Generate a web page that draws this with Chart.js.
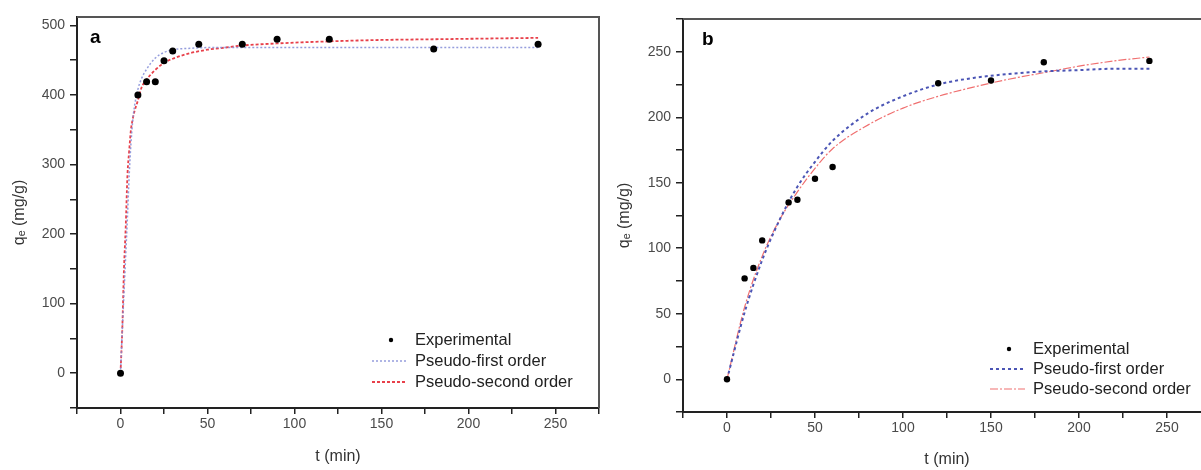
<!DOCTYPE html>
<html><head><meta charset="utf-8">
<script src="https://cdn.jsdelivr.net/npm/chart.js@4/dist/chart.umd.min.js"></script>
<style>
html,body{margin:0;padding:0;background:#fff;overflow:hidden;width:1201px;height:470px;position:relative;}
#ca{position:absolute;left:0;top:0;}
#cb{position:absolute;left:600px;top:0;}
</style></head><body>
<canvas id="ca" width="606" height="470"></canvas>
<canvas id="cb" width="620" height="470"></canvas>
<script>
// ---- data ----
const seriesNames = ['Experimental', 'Pseudo-first order', 'Pseudo-second order'];
const xTickLabels = [0, 50, 100, 150, 200, 250];
const aYTickLabels = [0, 100, 200, 300, 400, 500];
const bYTickLabels = [0, 50, 100, 150, 200, 250];

// panel a
const aExpT = [0, 10, 15, 20, 25, 30, 45, 70, 90, 120, 180, 240];
const aExpQ = [0, 400, 419, 419, 449, 463, 473, 473, 480, 480, 466, 473];
const aFitT = [0, 1, 2, 3, 4, 5, 6, 7, 8, 10, 12, 15, 20, 25, 30, 40, 50, 60, 70, 90, 120, 150, 180, 210, 240];
const aPfoQ = [0, 60, 115, 170, 225, 285, 330, 362, 383, 408, 423, 437, 453, 461, 465, 467, 468, 468, 468, 468, 468, 468, 468, 468, 468];
const aPsoQ = [0, 61, 150, 210, 285, 320, 350, 365, 376, 392, 410, 422, 436, 446, 452, 460, 465, 468, 471, 474, 477, 479, 480, 481, 482];

// panel b
const bExpT = [0, 10, 15, 20, 35, 40, 50, 60, 120, 150, 180, 240];
const bExpQ = [0, 77, 85, 106, 135, 137, 153, 162, 226, 228, 242, 243];
const bFitT = [0, 10, 20, 30, 40, 50, 60, 80, 100, 120, 140, 160, 180, 200, 220, 240];
const bPfoQ = [0, 51, 91, 122, 147, 166, 182, 203, 216, 225, 230, 233, 235, 236, 237, 237];
const bPsoQ = [0, 55, 94, 122, 143, 161, 176, 194, 207, 216, 223, 229, 234, 239, 243, 246];

const zip = (xs, ys) => xs.map((x, i) => ({x: x, y: ys[i]}));
const FONT = '"Liberation Sans", Arial, Helvetica, sans-serif';

const panelPlugin = {
  id: 'panel',
  afterDraw(chart, args, o) {
    const ctx = chart.ctx, ca = chart.chartArea;
    ctx.save();
    ctx.strokeStyle = o.frameColor; ctx.lineWidth = 2;
    ctx.beginPath(); ctx.moveTo(ca.left, ca.top); ctx.lineTo(ca.right, ca.top); ctx.lineTo(ca.right, ca.bottom); ctx.stroke();
    ctx.fillStyle = '#000'; ctx.font = 'bold 19px ' + FONT;
    ctx.textBaseline = 'alphabetic'; ctx.textAlign = 'left';
    ctx.fillText(o.letter, o.letterX, o.letterY);
    ctx.font = '16.5px ' + FONT; ctx.textBaseline = 'middle';
    chart.data.datasets.forEach((ds, i) => {
      const y = o.rowY[i];
      if (ds.showLine === false) {
        ctx.beginPath(); ctx.arc(o.dotX, y, 2.2, 0, Math.PI * 2);
        ctx.fillStyle = ds.backgroundColor; ctx.fill();
      } else {
        ctx.save(); ctx.strokeStyle = ds.borderColor; ctx.lineWidth = ds.borderWidth;
        ctx.setLineDash(ds.borderDash || []);
        ctx.beginPath(); ctx.moveTo(o.lineX1, y); ctx.lineTo(o.lineX2, y); ctx.stroke(); ctx.restore();
      }
      ctx.fillStyle = '#222';
      ctx.fillText(ds.label, o.textX, y);
    });
    ctx.restore();
  }
};

function makeChart(id, cfg) {
  const xLabels = new Set(xTickLabels);
  const yLabels = new Set(cfg.yLabels);
  return new Chart(document.getElementById(id), {
    type: 'scatter',
    data: {
      datasets: [
        {label: seriesNames[0], data: zip(cfg.expT, cfg.expQ), showLine: false, pointRadius: cfg.ptR,
         backgroundColor: '#000', borderColor: '#000', borderWidth: 0},
        {label: seriesNames[1], data: zip(cfg.fitT, cfg.pfo), showLine: true, pointRadius: 0,
         borderColor: cfg.pfoColor, borderWidth: cfg.pfoWidth, borderDash: cfg.pfoDash, cubicInterpolationMode: 'monotone', fill: false},
        {label: seriesNames[2], data: zip(cfg.fitT, cfg.pso), showLine: true, pointRadius: 0,
         borderColor: cfg.psoColor, borderWidth: cfg.psoWidth, borderDash: cfg.psoDash, cubicInterpolationMode: 'monotone', fill: false}
      ]
    },
    options: {
      responsive: false, animation: false, devicePixelRatio: 1,
      layout: {padding: {left: 0, top: cfg.top, right: cfg.padRight, bottom: 0}},
      plugins: {legend: {display: false}, tooltip: {enabled: false}, panel: cfg.panel},
      scales: {
        x: {
          type: 'linear', min: -25, max: 275,
          afterFit: s => { s.height = cfg.xH; },
          border: {display: true, color: '#222', width: 2},
          grid: {display: true, drawOnChartArea: false, drawTicks: true, tickLength: 6, color: '#222', lineWidth: 1.5},
          ticks: {stepSize: 25, autoSkip: false, maxRotation: 0, includeBounds: false, padding: 2,
                  color: '#4a4a4a', font: {family: FONT, size: 14},
                  callback: v => xLabels.has(v) ? String(v) : ''},
          title: {display: true, text: 't (min)', color: '#333', font: {family: FONT, size: 16},
                  padding: {top: 0, bottom: cfg.xTitlePad}}
        },
        y: {
          type: 'linear', min: cfg.yMin, max: cfg.yMax,
          afterFit: s => { s.width = cfg.yW; },
          border: {display: true, color: '#222', width: 2},
          grid: {display: true, drawOnChartArea: false, drawTicks: true, tickLength: 7, color: '#222', lineWidth: 1.5},
          ticks: {stepSize: cfg.yStep, autoSkip: false, includeBounds: false, padding: 5,
                  color: '#4a4a4a', font: {family: FONT, size: 14},
                  callback: v => yLabels.has(v) ? String(v) : ''},
          title: {display: true, text: 'qₑ (mg/g)', color: '#333', font: {family: FONT, size: 16},
                  padding: {top: cfg.yTitlePad, bottom: 0}}
        }
      }
    },
    plugins: [panelPlugin]
  });
}

makeChart('ca', {
  expT: aExpT, expQ: aExpQ, fitT: aFitT, pfo: aPfoQ, pso: aPsoQ, yLabels: aYTickLabels,
  ptR: 3.5, pfoColor: 'rgba(130,140,215,0.85)', pfoWidth: 1.5, pfoDash: [2, 2],
  psoColor: '#e8404a', psoWidth: 1.8, psoDash: [3, 2],
  top: 17, padRight: 7, xH: 62, yW: 77, yMin: -50, yMax: 512, yStep: 50,
  xTitlePad: 3.4, yTitlePad: 10.4,
  panel: {frameColor: '#555', letter: 'a', letterX: 90, letterY: 43,
          rowY: [340, 361, 382], dotX: 391, lineX1: 372, lineX2: 407, textX: 415}
});

makeChart('cb', {
  expT: bExpT, expQ: bExpQ, fitT: bFitT, pfo: bPfoQ, pso: bPsoQ, yLabels: bYTickLabels,
  ptR: 3.2, pfoColor: '#4b55b5', pfoWidth: 2, pfoDash: [3, 3],
  psoColor: '#f07070', psoWidth: 1.2, psoDash: [8, 2, 2, 2],
  top: 19, padRight: 9, xH: 58, yW: 83, yMin: -25, yMax: 275, yStep: 25,
  xTitlePad: 0.4, yTitlePad: 15.4,
  panel: {frameColor: '#555', letter: 'b', letterX: 102, letterY: 45,
          rowY: [349, 369, 389], dotX: 409, lineX1: 390, lineX2: 425, textX: 433}
});
</script>
</body></html>
